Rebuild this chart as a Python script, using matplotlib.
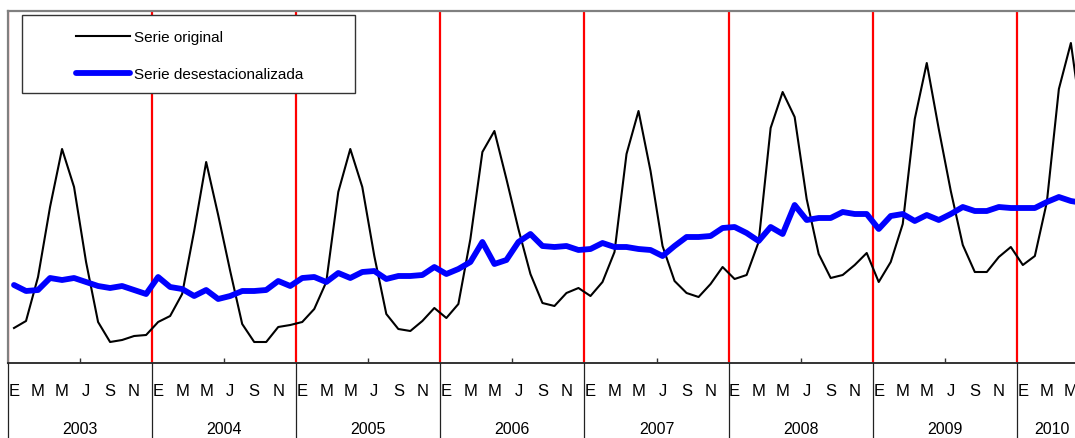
import matplotlib
matplotlib.use("Agg")
import matplotlib.pyplot as plt
from matplotlib.patches import Rectangle
from matplotlib.lines import Line2D
import matplotlib.transforms as mtransforms
import numpy as np

years = ["2003", "2004", "2005", "2006", "2007", "2008", "2009", "2010"]
month_letters = ["E", "M", "M", "J", "S", "N"]

serie_original = [
    35, 42, 86, 156, 214, 176, 101, 41, 21, 23, 27, 28,
    41, 47, 69, 132, 201, 148, 92, 39, 21, 21, 36, 38,
    41, 54, 81, 171, 214, 176, 107, 49, 34, 32, 42, 55,
    45, 59, 124, 211, 232, 184, 134, 89, 60, 57, 70, 75,
    67, 81, 111, 209, 252, 192, 117, 82, 70, 66, 79, 96,
    84, 88, 121, 235, 271, 246, 164, 109, 85, 88, 98, 110,
    81, 101, 139, 244, 300, 234, 172, 118, 91, 91, 106, 116,
    98, 107, 161, 274, 320, 234,
]
serie_desest = [
    78, 72, 73, 85, 83, 85, 81, 77, 75, 77, 73, 69,
    86, 76, 74, 67, 73, 64, 67, 72, 72, 73, 82, 77,
    85, 86, 81, 90, 85, 91, 92, 84, 87, 87, 88, 96,
    89, 94, 101, 121, 99, 103, 121, 129, 117, 116, 117, 113,
    114, 120, 116, 116, 114, 113, 107, 117, 126, 126, 127, 135,
    136, 130, 122, 136, 129, 158, 143, 145, 145, 151, 149, 149,
    134, 147, 149, 142, 148, 143, 149, 156, 152, 152, 156, 155,
    155, 155, 161, 166, 162, 160,
]

FONT = ["Liberation Sans", "DejaVu Sans"]

W, H = 1075, 439
fig = plt.figure(figsize=(W / 100, H / 100), dpi=100)
ax_left, ax_right, ax_top, ax_bottom = 8, 1075, 12, 364
ax = fig.add_axes([ax_left / W, 1 - ax_bottom / H, (ax_right - ax_left) / W, (ax_bottom - ax_top) / H])

x = np.arange(len(serie_original))
xmax = (1075 - 14) / 12.01

# red year separators
for n in range(len(years)):
    ax.axvline(12 * n - 0.5, color="#ff0000", lw=1.6, zorder=1)

ax.plot(x, serie_original, color="black", lw=1.5, zorder=3, label="Serie original")
ax.plot(x, serie_desest, color="#0000ff", lw=4.2, zorder=4, solid_capstyle="round",
        label="Serie desestacionalizada")

for side in ["top", "left"]:
    ax.spines[side].set_color("#808080")
    ax.spines[side].set_linewidth(1.6)
ax.spines["right"].set_visible(False)
ax.spines["bottom"].set_color("#333333")
ax.spines["bottom"].set_linewidth(1.4)

ax.set_yticks([])
ax.set_xticks([12 * n + 5.5 for n in range(len(years))])
ax.set_xticklabels([])
ax.tick_params(axis="x", direction="in", length=3.5, width=1, color="#333333")
ax.set_xlim(-0.5, xmax)
ax.set_ylim(0, 352)

trans = mtransforms.blended_transform_factory(ax.transData, fig.transFigure)
# month letters
for n in range(len(years)):
    for j, lab in enumerate(month_letters):
        k = 12 * n + 2 * j
        if k > xmax + 1:
            continue
        fig.text(k, 1 - 392 / H, lab, transform=trans, ha="center", va="center",
                 fontsize=12, family=FONT, color="black")
# year labels
for n, yr in enumerate(years):
    c = 12 * n + 5.5
    if c > xmax:
        c = (12 * n - 0.5 + xmax) / 2 + 0.5
    fig.text(c, 1 - 430 / H, yr, transform=trans, ha="center", va="center",
             fontsize=11.5, family=FONT, color="black")
# separators below axis
for n in range(len(years)):
    fig.add_artist(Line2D([12 * n - 0.5, 12 * n - 0.5], [1 - ax_bottom / H, 0],
                          transform=trans, color="#222222", lw=0.9))

# legend frame and legend
fig.add_artist(Rectangle((22 / W, 1 - 94 / H), (355 - 22) / W, (94 - 16) / H,
                         transform=fig.transFigure, facecolor="white", edgecolor="#333333",
                         lw=1.0, zorder=5))
fs = 11
fpx = fs * 100 / 72
leg = fig.legend(loc="upper left", bbox_to_anchor=(76 / W, 1 - 31 / H), frameon=False,
                 borderpad=0, borderaxespad=0, handlelength=54 / fpx, handletextpad=4 / fpx,
                 labelspacing=1.5, prop={"family": FONT, "size": fs})
leg.set_zorder(6)

fig.savefig("out.png", dpi=100)
